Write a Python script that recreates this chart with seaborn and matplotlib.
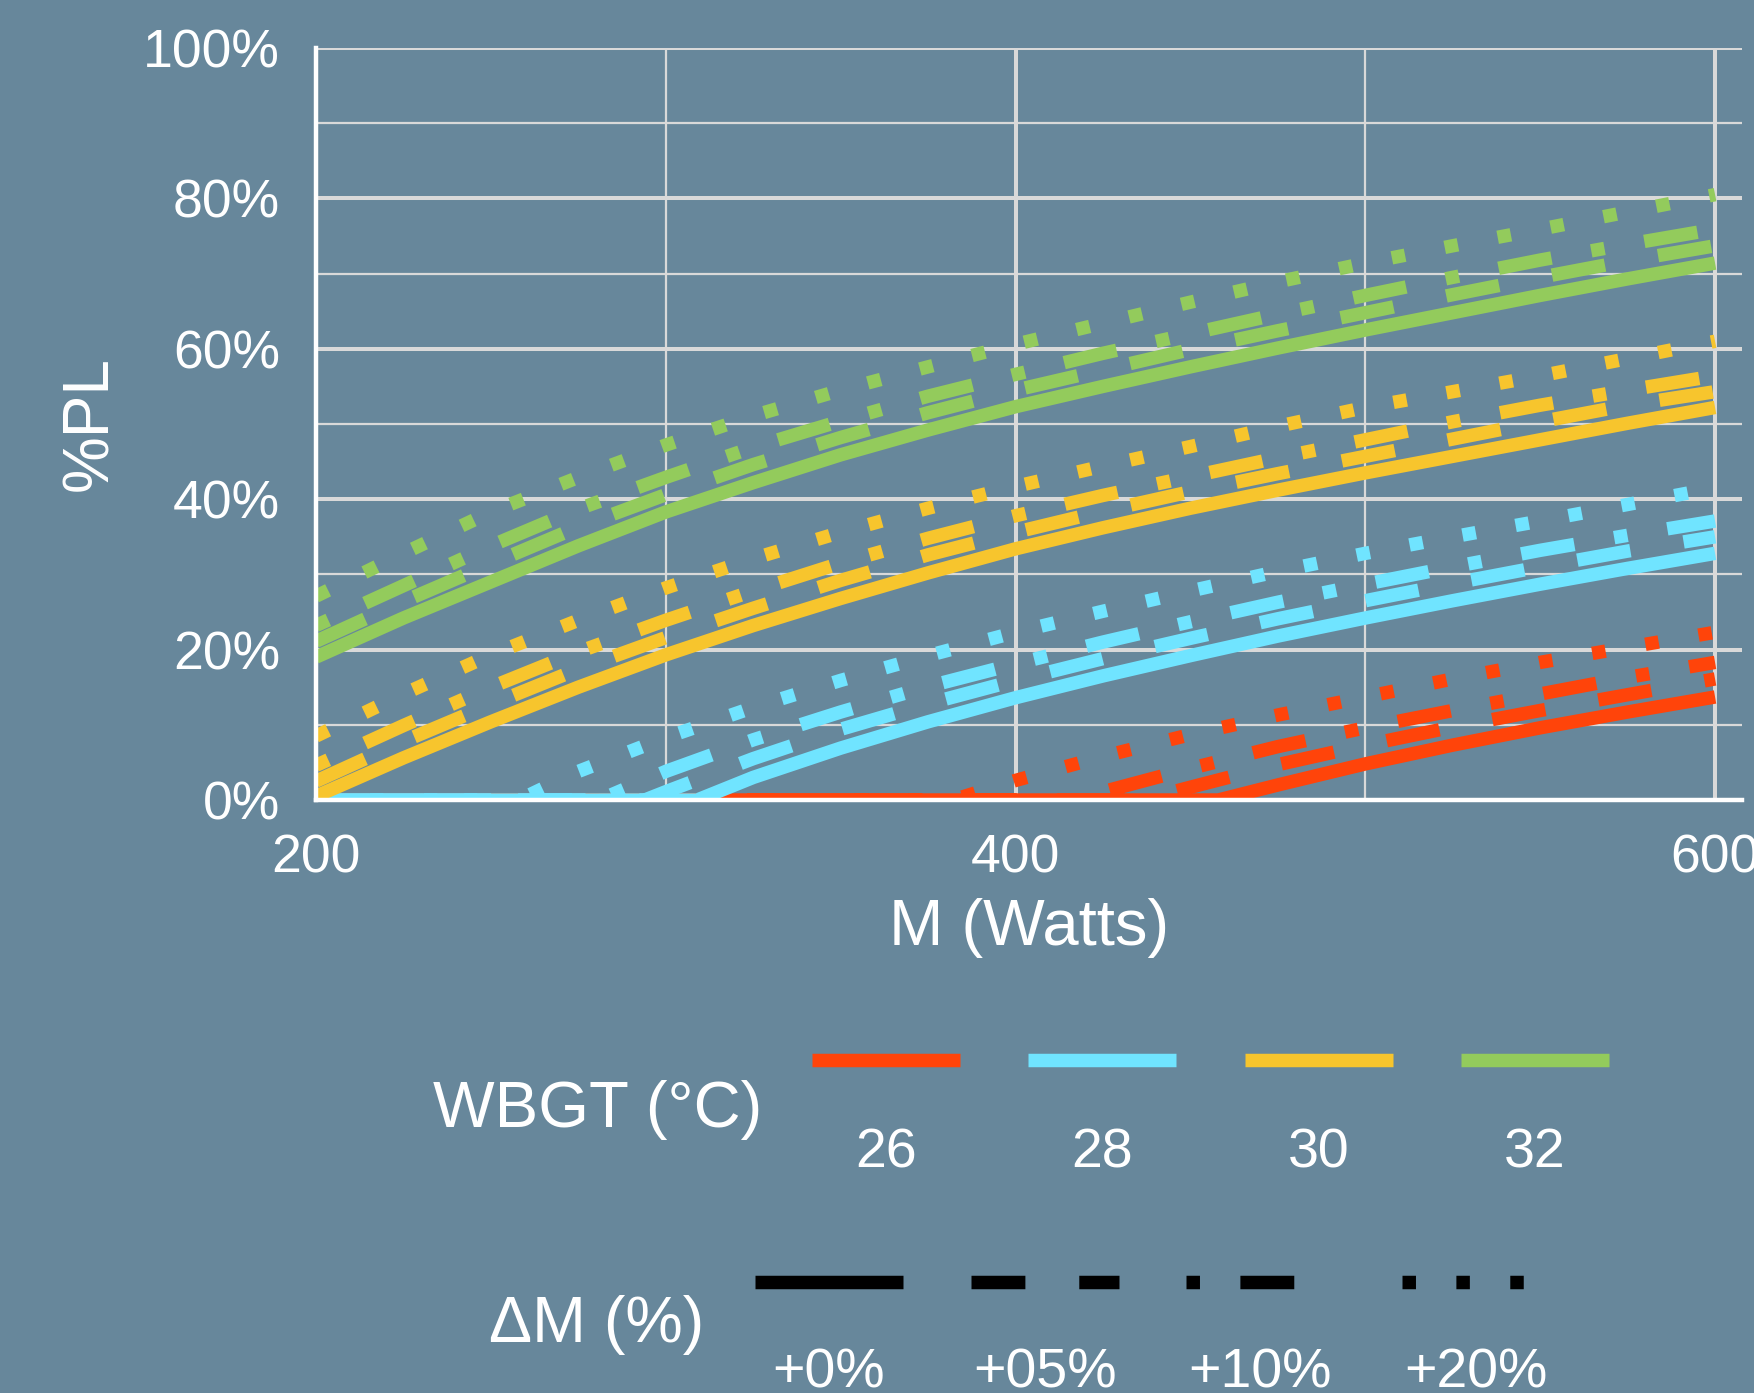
import matplotlib
matplotlib.use("Agg")
import matplotlib.pyplot as plt
import seaborn as sns
import pandas as pd
import numpy as np

# ---------------- data ----------------
M_W = [200, 225, 250, 275, 300, 325, 350, 375, 400, 425, 450, 475, 500, 525, 550, 575, 600]

WBGT_LEVELS = ["26", "28", "30", "32"]
DM_LEVELS = ["+0%", "+05%", "+10%", "+20%"]

# %PL values on the M_W grid
PL_26_00 = [0, 0, 0, 0, 0, 0, 0, 0, 0, 0, 0, 2.0, 4.8, 7.3, 9.6, 11.7, 13.7]
PL_26_05 = [0, 0, 0, 0, 0, 0, 0, 0, 0, 0, 1.7, 4.7, 7.3, 9.7, 11.9, 14.0, 16.1]
PL_26_10 = [0, 0, 0, 0, 0, 0, 0, 0, 0, 1.1, 4.2, 7.1, 9.6, 11.9, 14.1, 16.3, 18.3]
PL_26_20 = [0, 0, 0, 0, 0, 0, 0, 0, 2.6, 5.8, 8.7, 11.3, 13.7, 16.1, 18.3, 20.3, 22.3]

PL_28_00 = [0, 0, 0, 0, 0, 3.0, 6.9, 10.4, 13.6, 16.5, 19.2, 21.8, 24.2, 26.5, 28.7, 30.8, 32.8]
PL_28_05 = [0, 0, 0, 0, 1.1, 5.5, 9.4, 12.8, 15.9, 18.8, 21.5, 24.1, 26.5, 28.8, 31.0, 33.1, 35.0]
PL_28_10 = [0, 0, 0, 0, 3.8, 8.0, 11.7, 15.1, 18.1, 21.0, 23.7, 26.3, 28.7, 31.0, 33.2, 35.2, 37.1]
PL_28_20 = [0, 0, 0, 3.8, 8.3, 12.3, 15.9, 19.2, 22.3, 25.1, 27.8, 30.4, 32.8, 35.0, 37.1, 39.3, 41.5]

PL_30_00 = [0.5, 5.6, 10.4, 15.0, 19.3, 23.2, 26.8, 30.2, 33.4, 36.2, 38.8, 41.2, 43.5, 45.7, 47.9, 50.1, 52.2]
PL_30_05 = [2.5, 7.8, 12.7, 17.4, 21.6, 25.5, 29.2, 32.6, 35.6, 38.4, 41.0, 43.4, 45.7, 48.0, 50.3, 52.5, 54.3]
PL_30_10 = [4.6, 9.9, 15.0, 19.7, 23.9, 27.8, 31.5, 34.8, 37.8, 40.5, 43.0, 45.5, 47.9, 50.3, 52.5, 54.5, 56.4]
PL_30_20 = [8.5, 14.1, 19.3, 23.9, 28.2, 32.1, 35.6, 38.8, 41.7, 44.4, 47.0, 49.7, 52.2, 54.3, 56.4, 58.7, 61.0]

PL_32_00 = [19.0, 24.2, 29.0, 33.8, 38.3, 42.2, 45.9, 49.2, 52.3, 55.0, 57.6, 60.1, 62.5, 64.8, 67.1, 69.3, 71.4]
PL_32_05 = [21.1, 26.4, 31.4, 36.3, 40.6, 44.6, 48.2, 51.5, 54.5, 57.2, 59.9, 62.4, 64.8, 67.2, 69.5, 71.7, 73.7]
PL_32_10 = [23.2, 28.5, 33.8, 38.7, 42.9, 46.9, 50.4, 53.7, 56.6, 59.4, 62.0, 64.6, 67.1, 69.5, 71.8, 73.9, 75.9]
PL_32_20 = [27.1, 32.8, 38.3, 42.9, 47.2, 51.1, 54.5, 57.6, 60.6, 63.4, 66.2, 68.9, 71.4, 73.7, 75.9, 78.2, 80.5]

# M (W) at which a curve leaves 0 %
ONSET_26 = [458, 436, 416, 382]
ONSET_28 = [309, 294, 281, 258]

SERIES = {
    "26": [PL_26_00, PL_26_05, PL_26_10, PL_26_20],
    "28": [PL_28_00, PL_28_05, PL_28_10, PL_28_20],
    "30": [PL_30_00, PL_30_05, PL_30_10, PL_30_20],
    "32": [PL_32_00, PL_32_05, PL_32_10, PL_32_20],
}
ONSETS = {"26": ONSET_26, "28": ONSET_28}

rows = []
for w in WBGT_LEVELS:
    for j, dm in enumerate(DM_LEVELS):
        for m, v in zip(M_W, SERIES[w][j]):
            rows.append((w, dm, m, v))
        if w in ONSETS:
            rows.append((w, dm, ONSETS[w][j], 0.0))
df = pd.DataFrame(rows, columns=["WBGT", "dM", "M", "PL"])

# ---------------- style ----------------
BG = "#67879B"
GRID = "#D9D9D9"
COLORS = ["#FF440A", "#70E4FF", "#F7C52D", "#93CB5C"]
DASHES = {"+0%": "", "+05%": (4, 4), "+10%": (1, 3, 4, 3), "+20%": (1, 3)}
LW = 9.7

sns.set_style("white")
plt.rcParams["font.family"] = ["Liberation Sans", "DejaVu Sans"]

W, H = 1754, 1393
fig = plt.figure(figsize=(W / 100, H / 100), dpi=100, facecolor=BG)
ax = fig.add_axes([316 / W, 1 - 800 / H, 1426 / W, 752 / H])
ax.set_facecolor(BG)

sns.lineplot(
    data=df, x="M", y="PL", hue="WBGT", style="dM",
    hue_order=WBGT_LEVELS, style_order=DM_LEVELS,
    palette=dict(zip(WBGT_LEVELS, COLORS)), dashes=DASHES,
    linewidth=LW, legend=False, errorbar=None, ax=ax,
    solid_capstyle="butt", dash_capstyle="butt", solid_joinstyle="round",
)

ax.set_xlim(200, 607.7)
ax.set_ylim(0, 100)
ax.set_xticks([200, 400, 600])
ax.set_xticks([300, 500], minor=True)
ax.set_yticks([0, 20, 40, 60, 80, 100])
ax.set_yticks([10, 30, 50, 70, 90], minor=True)
ax.set_yticklabels([f"{v}%" for v in [0, 20, 40, 60, 80, 100]])
ax.set_axisbelow(True)
ax.grid(which="major", color=GRID, linewidth=2.9)
ax.grid(which="minor", color=GRID, linewidth=1.6)
ax.tick_params(which="major", length=10.8, width=2.9, color="white",
               direction="out", labelsize=38.5, labelcolor="white")
ax.tick_params(axis="y", which="major", pad=15)
ax.tick_params(axis="x", which="major", pad=13.5)
ax.tick_params(which="minor", length=0)
for s in ["top", "right"]:
    ax.spines[s].set_visible(False)
for s in ["left", "bottom"]:
    ax.spines[s].set_color("white")
    ax.spines[s].set_linewidth(3.2)

ax.set_xlabel("M (Watts)", fontsize=47, color="white", va="baseline")
ax.xaxis.set_label_coords(0.5, -145 / 752)
ax.set_ylabel("%PL", fontsize=46, color="white", va="center")
ax.yaxis.set_label_coords((90 - 316) / 1426, 0.5)

# ---------------- legends (drawn below the panel) ----------------
lax = fig.add_axes([0, 0, 1, 1])
lax.set_xlim(0, W)
lax.set_ylim(H, 0)
lax.axis("off")
lax.patch.set_alpha(0)

KEY_W = 148
for i, (lab, col) in enumerate(zip(WBGT_LEVELS, COLORS)):
    x0 = 812 + i * 216.3
    lax.plot([x0, x0 + KEY_W], [1060, 1060], color=col, lw=LW, solid_capstyle="butt")
    lax.text(x0 + KEY_W / 2, 1168, lab, ha="center", va="baseline", fontsize=40, color="white")
lax.text(433, 1127, "WBGT (°C)", ha="left", va="baseline", fontsize=47, color="white")

for i, lab in enumerate(DM_LEVELS):
    x0 = 755 + i * 215.7
    ln, = lax.plot([x0, x0 + KEY_W], [1282, 1282], color="black", lw=LW,
                   solid_capstyle="butt", dash_capstyle="butt")
    if DASHES[lab]:
        ln.set_dashes(DASHES[lab])
    lax.text(x0 + KEY_W / 2, 1388, lab, ha="center", va="baseline", fontsize=40, color="white")
lax.text(489, 1342, "ΔM (%)", ha="left", va="baseline", fontsize=46.5, color="white")

fig.savefig("out.png", dpi=100, facecolor=BG)
